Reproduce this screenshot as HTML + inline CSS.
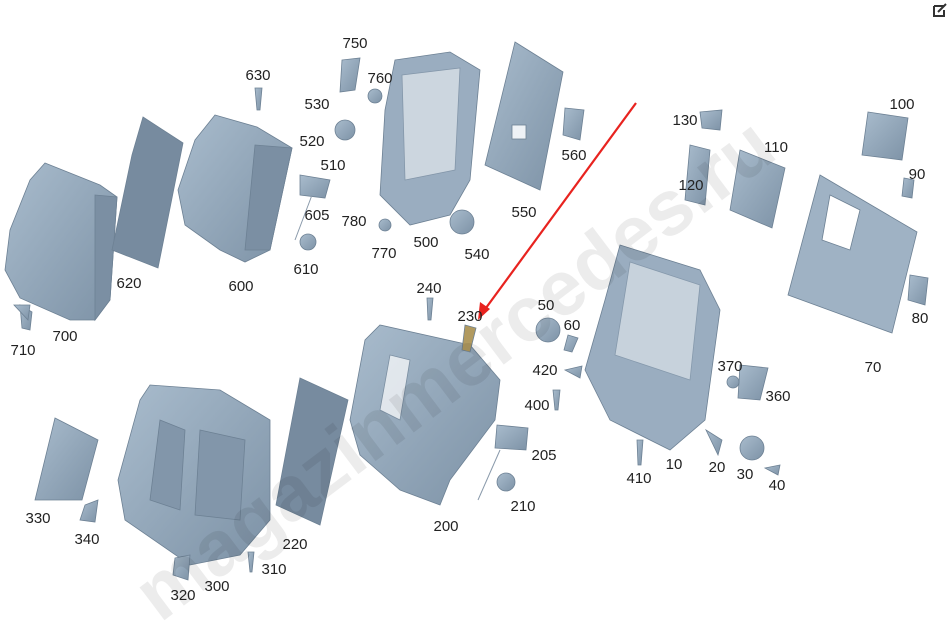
<!DOCTYPE html>
<html><head><meta charset="utf-8"><style>
html,body{margin:0;padding:0;background:#fff;}
body{width:950px;height:621px;overflow:hidden;position:relative;font-family:"Liberation Sans",Arial,sans-serif;}
svg{position:absolute;left:0;top:0}
</style></head><body>
<svg width="950" height="621" viewBox="0 0 950 621" xmlns="http://www.w3.org/2000/svg">
<defs>
<linearGradient id="g" x1="0" y1="0" x2="1" y2="1"><stop offset="0" stop-color="#a9bccd"/><stop offset="1" stop-color="#7d92a6"/></linearGradient>
</defs>
<g fill="url(#g)" stroke="#6d8194" stroke-width="0.8">
<!-- 700 -->
<path d="M45 163 L100 185 L117 197 L110 300 L95 320 L70 320 L20 298 L5 270 L10 230 L30 180 Z"/>
<path d="M95 195 L117 197 L110 300 L95 320 Z" fill="#7b8fa3"/>
<path d="M20 305 L32 312 L30 330 L22 328 Z"/>
<!-- 620 -->
<path d="M143 117 L183 143 L158 268 L112 250 L132 155 Z" fill="#778b9f"/>
<!-- 600 -->
<path d="M215 115 L257 127 L292 148 L270 250 L245 262 L220 250 L185 225 L178 190 L195 140 Z"/>
<path d="M255 145 L292 148 L270 250 L245 250 Z" fill="#7b8fa3"/>
<!-- 750 -->
<path d="M342 60 L360 58 L355 90 L340 92 Z"/>
<!-- 500 frame -->
<path d="M395 60 L450 52 L480 70 L470 180 L450 215 L410 225 L380 195 L385 110 Z" fill="#9aadc0"/>
<path d="M402 75 L460 68 L455 170 L405 180 Z" fill="#fff" opacity="0.5"/>
<circle cx="462" cy="222" r="12"/>
<!-- 550 -->
<path d="M515 42 L563 72 L540 190 L485 165 Z"/>
<rect x="512" y="125" width="14" height="14" fill="#eef2f6"/>
<path d="M565 108 L584 110 L580 140 L563 135 Z"/>
<!-- 110, 120, 130 -->
<path d="M740 150 L785 168 L772 228 L730 210 Z"/>
<path d="M690 145 L710 150 L705 205 L685 200 Z"/>
<path d="M700 112 L722 110 L720 130 L702 128 Z"/>
<!-- 100 -->
<path d="M868 112 L908 118 L902 160 L862 155 Z"/>
<path d="M904 178 L914 180 L912 198 L902 196 Z"/>
<!-- 70 -->
<path d="M820 175 L917 232 L892 333 L788 295 Z" fill="#9fb2c4"/>
<path d="M830 195 L860 210 L850 250 L822 240 Z" fill="#fff"/>
<path d="M910 275 L928 278 L925 305 L908 300 Z"/>
<!-- 10 frame -->
<path d="M620 245 L700 270 L720 310 L705 420 L670 450 L610 420 L585 370 L605 300 Z" fill="#9aadc0"/>
<path d="M630 262 L700 285 L690 380 L615 355 Z" fill="#fff" opacity="0.45"/>
<path d="M740 365 L768 368 L760 400 L738 398 Z"/>
<circle cx="733" cy="382" r="6"/>
<circle cx="752" cy="448" r="12"/>
<path d="M706 430 L722 440 L718 455 Z"/>
<path d="M765 468 L780 465 L778 475 Z"/>
<!-- 50 60 -->
<circle cx="548" cy="330" r="12"/>
<path d="M568 335 L578 338 L572 352 L564 350 Z"/>
<path d="M565 370 L582 366 L580 378 Z"/>
<!-- 200 -->
<path d="M380 325 L470 345 L500 380 L495 420 L450 480 L440 505 L400 490 L360 455 L350 420 L365 340 Z"/>
<path d="M390 355 L410 360 L400 420 L380 410 Z" fill="#fff" opacity="0.7"/>
<path d="M465 325 L476 328 L470 352 L462 350 Z" fill="#b19a60"/>
<path d="M497 425 L528 428 L526 450 L495 448 Z"/>
<circle cx="506" cy="482" r="9"/>
<!-- 300 -->
<path d="M150 385 L220 390 L270 420 L270 520 L240 555 L190 565 L125 520 L118 480 L140 400 Z"/>
<path d="M160 420 L185 430 L180 510 L150 500 Z" fill="#8296aa"/>
<path d="M200 430 L245 440 L240 520 L195 515 Z" fill="#8296aa"/>
<!-- 220 -->
<path d="M300 378 L348 400 L320 525 L276 505 Z" fill="#778b9f"/>
<!-- 330 -->
<path d="M55 418 L98 440 L82 500 L35 500 Z"/>
<path d="M85 505 L98 500 L95 522 L80 520 Z"/>
<path d="M175 558 L190 555 L188 580 L173 575 Z"/>
<path d="M14 305 L30 305 L28 320 Z"/>
<!-- pins -->
<path d="M255 88 L262 88 L260 110 L257 110 Z"/>
<path d="M427 298 L433 298 L431 320 L428 320 Z"/>
<path d="M248 552 L254 552 L252 572 L250 572 Z"/>
<path d="M637 440 L643 440 L641 465 L638 465 Z"/>
<path d="M553 390 L560 390 L558 410 L555 410 Z"/>
<path d="M300 175 L330 180 L325 198 L300 195 Z"/>
<circle cx="308" cy="242" r="8"/>
<circle cx="345" cy="130" r="10"/>
<circle cx="375" cy="96" r="7"/>
<circle cx="385" cy="225" r="6"/>
</g>
<g stroke="#8a9aab" stroke-width="1" fill="none">
<line x1="312" y1="195" x2="295" y2="240"/><line x1="500" y1="450" x2="478" y2="500"/>
</g>
<text x="470" y="390" transform="rotate(-37 470 390)" font-family="Liberation Sans,sans-serif" font-size="78" font-weight="bold" fill="#000" opacity="0.07" text-anchor="middle">magazinmercedes.ru</text>
<line x1="636" y1="103" x2="483" y2="312" stroke="#e8231f" stroke-width="2.2"/>
<path d="M478 320 L480 302 L490 309 Z" fill="#e8231f"/>
<g font-size="15" fill="#222" text-anchor="middle" font-family="Liberation Sans,sans-serif">
<text x="355" y="48">750</text><text x="258" y="80">630</text><text x="380" y="83">760</text><text x="317" y="109">530</text><text x="312" y="146">520</text><text x="333" y="170">510</text><text x="317" y="220">605</text><text x="354" y="226">780</text><text x="384" y="258">770</text><text x="426" y="247">500</text><text x="477" y="259">540</text><text x="306" y="274">610</text><text x="129" y="288">620</text><text x="241" y="291">600</text><text x="65" y="341">700</text><text x="23" y="355">710</text><text x="574" y="160">560</text><text x="524" y="217">550</text><text x="685" y="125">130</text><text x="776" y="152">110</text><text x="691" y="190">120</text><text x="902" y="109">100</text><text x="917" y="179">90</text><text x="920" y="323">80</text><text x="873" y="372">70</text><text x="429" y="293">240</text><text x="470" y="321">230</text><text x="546" y="310">50</text><text x="572" y="330">60</text><text x="545" y="375">420</text><text x="537" y="410">400</text><text x="730" y="371">370</text><text x="778" y="401">360</text><text x="544" y="460">205</text><text x="523" y="511">210</text><text x="446" y="531">200</text><text x="639" y="483">410</text><text x="674" y="469">10</text><text x="717" y="472">20</text><text x="745" y="479">30</text><text x="777" y="490">40</text><text x="38" y="523">330</text><text x="87" y="544">340</text><text x="295" y="549">220</text><text x="274" y="574">310</text><text x="217" y="591">300</text><text x="183" y="600">320</text>
</g>
<path d="M934 6 L944 6 M934 6 L934 16 L944 16 L944 10 M938 12 L946 4" stroke="#333" stroke-width="2" fill="none"/>
</svg>
</body></html>
